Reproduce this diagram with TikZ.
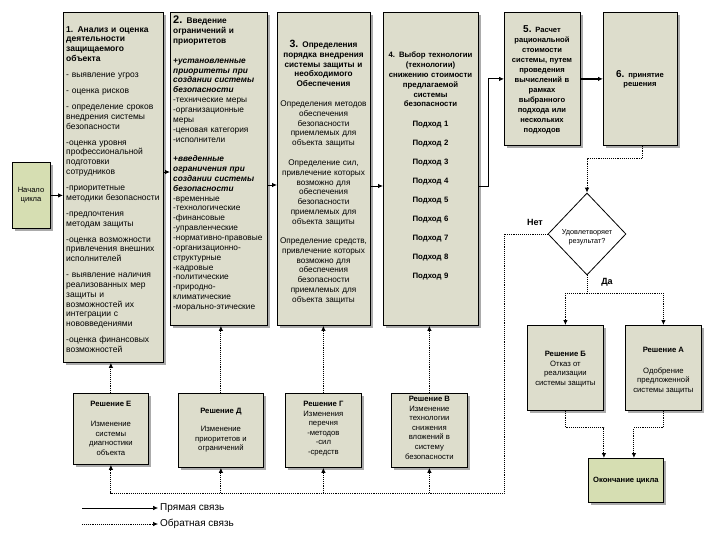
\documentclass[tikz,border=0pt]{standalone}
\usepackage{fontspec}
\setmainfont{Liberation Sans}
\usetikzlibrary{arrows.meta,shapes.geometric,shadows}
\definecolor{boxfill}{RGB}{221,221,204}
\definecolor{greenfill}{RGB}{214,222,178}
\definecolor{shadowc}{RGB}{150,150,150}
\tikzset{
  box/.style={draw=black, line width=0.8pt, fill=boxfill, anchor=north west, inner sep=0pt,
    drop shadow={shadow xshift=2.5pt, shadow yshift=-2.5pt, fill=shadowc, opacity=0.8}},
  gbox/.style={box, fill=greenfill},
  txt/.style={inner sep=0pt, font=\fontsize{8.2}{9.8}\selectfont},
  stxt/.style={inner sep=0pt, font=\fontsize{7.7}{9.6}\selectfont, align=center, anchor=north},
  fwd/.style={draw=black, line width=0.8pt, -{Latex[length=5pt,width=4.5pt]}},
  fb/.style={draw=black, line width=0.9pt, densely dotted, -{Latex[length=5pt,width=4.5pt]}},
  fbl/.style={draw=black, line width=0.9pt, densely dotted},
  lbl/.style={inner sep=0pt, font=\bfseries\fontsize{9}{10}\selectfont},
  leg/.style={inner sep=0pt, anchor=west, font=\fontsize{10}{11}\selectfont},
}
\begin{document}
\begin{tikzpicture}[x=1pt,y=-1pt]
\fill[white] (0,0) rectangle (720,540);
\useasboundingbox (0,0) rectangle (720,540);

% top row boxes
\node[gbox, minimum width=38pt, minimum height=66pt] (st) at (12,162) {};
\node[box, minimum width=100pt, minimum height=350pt] (b1) at (63,12) {};
\node[box, minimum width=97pt, minimum height=313pt] (b2) at (170,12) {};
\node[box, minimum width=93pt, minimum height=313pt] (b3) at (277,12) {};
\node[box, minimum width=95pt, minimum height=313pt] (b4) at (383,12) {};
\node[box, minimum width=76pt, minimum height=133pt] (b5) at (504,12) {};
\node[box, minimum width=74pt, minimum height=133pt] (b6) at (603,12) {};

% bottom row boxes
\node[box, minimum width=75pt, minimum height=71pt] (re) at (73,393) {};
\node[box, minimum width=85pt, minimum height=74pt] (rd) at (178,393) {};
\node[box, minimum width=76pt, minimum height=74pt] (rg) at (285,393) {};
\node[box, minimum width=76pt, minimum height=74pt] (rv) at (391,393) {};
\node[box, minimum width=76pt, minimum height=85pt] (rb) at (527,325) {};
\node[box, minimum width=76pt, minimum height=85pt] (ra) at (625,325) {};
\node[gbox, minimum width=75pt, minimum height=44pt] (en) at (588,458) {};

\node[diamond, draw=black, line width=0.8pt, fill=white, minimum width=78pt, minimum height=82pt, inner sep=0pt] (dia) at (587,234) {};

% texts
\node[stxt, font=\fontsize{7.6}{9.4}\selectfont] (tst) at (31,187) {Начало\\цикла};

\node[txt, anchor=north west, text width=97pt, align=left, font=\fontsize{8.5}{9.8}\selectfont] (t1) at (66,26) {%
\textbf{1. Анализ и оценка\\деятельности\\защищаемого\\объекта}\\[6.2pt]
- выявление угроз\\[6.2pt]
- оценка рисков\\[6.2pt]
- определение сроков\\внедрения системы\\безопасности\\[6.2pt]
-оценка уровня\\профессиональной\\подготовки\\сотрудников\\[6.2pt]
-приоритетные\\методики безопасности\\[6.2pt]
-предпочтения\\методам защиты\\[6.2pt]
-оценка возможности\\привлечения внешних\\исполнителей\\[6.2pt]
- выявление наличия\\реализованных мер\\защиты и\\возможностей их\\интеграции с\\нововведениями\\[6.2pt]
-оценка финансовых\\возможностей};

\node[txt, anchor=north west, text width=94pt, align=left, font=\fontsize{8.3}{9.85}\selectfont] (t2) at (173,16) {%
\textbf{{\fontsize{11}{10}\selectfont 2.} Введение\\ограничений и\\приоритетов}\\[9.8pt]
\textbf{\textit{+установленные\\приоритеты при\\создании системы\\безопасности}}\\
-технические меры\\-организационные\\меры\\-ценовая категория\\-исполнители\\[9.8pt]
\textbf{\textit{+введенные\\ограничения при\\создании системы\\безопасности}}\\
-временные\\-технологические\\-финансовые\\-управленческие\\-нормативно-правовые\\-организационно-\\структурные\\-кадровые\\-политические\\-природно-\\климатические\\-морально-этические};

\node[txt, anchor=north, text width=93pt, align=center] (t3) at (323.5,40) {%
\textbf{{\fontsize{10.5}{10}\selectfont 3.} Определения\\порядка внедрения\\системы защиты и\\необходимого\\Обеспечения}\\[10pt]
Определения методов\\обеспечения\\безопасности\\приемлемых для\\объекта защиты\\[10pt]
Определение сил,\\привлечение которых\\возможно для\\обеспечения\\безопасности\\приемлемых для\\объекта защиты\\[9.4pt]
Определение средств,\\привлечение которых\\возможно для\\обеспечения\\безопасности\\приемлемых для\\объекта защиты};

\node[txt, anchor=north, text width=93pt, align=center, font=\fontsize{7.8}{9.8}\selectfont] (t4) at (430.5,52) {%
\textbf{4. Выбор технологии\\(технологии)\\снижению стоимости\\предлагаемой\\системы\\безопасности}\\[10.2pt]
\textbf{Подход 1\\[9.2pt]Подход 2\\[9.2pt]Подход 3\\[9.2pt]Подход 4\\[9.2pt]Подход 5\\[9.2pt]Подход 6\\[9.2pt]Подход 7\\[9.2pt]Подход 8\\[9.2pt]Подход 9}};

\node[txt, anchor=north, text width=74pt, align=center, font=\bfseries\fontsize{7.6}{10}\selectfont] (t5) at (542,25) {%
{\fontsize{10}{10}\selectfont 5.} Расчет\\рациональной\\стоимости\\системы, путем\\проведения\\вычислений в\\рамках\\выбранного\\подхода или\\нескольких\\подходов};

\node[txt, anchor=north, text width=72pt, align=center, font=\bfseries\fontsize{7.6}{9.6}\selectfont] (t6) at (640,70) {%
{\fontsize{10}{10}\selectfont 6.} принятие\\решения};

\node[stxt, font=\fontsize{7.3}{9.4}\selectfont] (tdia) at (587,229) {Удовлетворяет\\результат?};
\node[lbl] (net) at (535,222) {Нет};
\node[lbl] (da) at (607,282) {Да};

\node[stxt] (tre) at (re.north |- 0,401) {\textbf{Решение Е}\\[10.5pt]Изменение\\системы\\диагностики\\объекта};
\node[stxt] (trd) at (rd.north |- 0,408) {\textbf{Решение Д}\\[8.5pt]Изменение\\приоритетов и\\ограничений};
\node[stxt] (trg) at (rg.north |- 0,401) {\textbf{Решение Г}\\Изменения\\перечня\\-методов\\-сил\\-средств};
\node[stxt] (trv) at (rv.north |- 0,396) {\textbf{Решение В}\\Изменение\\технологии\\снижения\\вложений в\\систему\\безопасности};
\node[stxt] (trb) at (rb.north |- 0,351) {\textbf{Решение Б}\\Отказ от\\реализации\\системы защиты};
\node[stxt] (tra) at (ra.north |- 0,347) {\textbf{Решение А}\\[11pt]Одобрение\\предложенной\\системы защиты};
\node[stxt, font=\bfseries\fontsize{7.6}{9.4}\selectfont, anchor=center] (ten) at (en.center) {Окончание цикла};

% forward connectors
\coordinate (ya) at (0,172);
\coordinate (yb) at (0,185);
\coordinate (j) at (488,186);
\draw[fwd] (st.east) -- (st.east -| b1.west);
\draw[fwd] (b1.east |- ya) -- (b2.west |- ya);
\draw[fwd] (b2.east |- yb) -- (b3.west |- yb);
\draw[fwd] (b3.east |- j) -- (b4.west |- j);
\draw[fwd] (b4.east |- j) -- (j) |- (b5.west);
\draw[fwd, line width=1.4pt] (b5.east) -- (b6.west);

% feedback connectors
\draw[fb] ([xshift=2pt]b6.south) -- ++(0,13) -| (dia.north);
\coordinate (nl) at (504,493);
\draw[fb] (dia.west) -| (nl) -| (re.south);
\draw[fb] (rd.south |- nl) -- (rd.south);
\draw[fb] (rg.south |- nl) -- (rg.south);
\draw[fb] (rv.south |- nl) -- (rv.south);
\draw[fb] (re.north) -- (re.north |- b1.south);
\draw[fb] (rd.north) -- (rd.north |- b2.south);
\draw[fb] (rg.north) -- (rg.north |- b3.south);
\draw[fb] (rv.north) -- (rv.north |- b4.south);
\draw[fbl] (dia.south) -- ++(0,18) coordinate (dj);
\draw[fb] (dj) -| (rb.north);
\draw[fb] (dj) -| (ra.north);
\draw[fb] (rb.south) -- ++(0,17) -| ([xshift=-22pt]en.north);
\draw[fb] (ra.south) -- ++(0,17) -| ([xshift=8pt]en.north);

% legend
\coordinate (l1) at (82,508);
\coordinate (l2) at (82,524);
\node[leg] (lg1) at (160,508) {Прямая связь};
\node[leg] (lg2) at (160,524) {Обратная связь};
\draw[fwd, line width=0.6pt, shorten >=2pt] (l1) -- (lg1.west);
\draw[fb, line width=0.7pt, shorten >=2pt] (l2) -- (lg2.west);
\end{tikzpicture}
\end{document}
